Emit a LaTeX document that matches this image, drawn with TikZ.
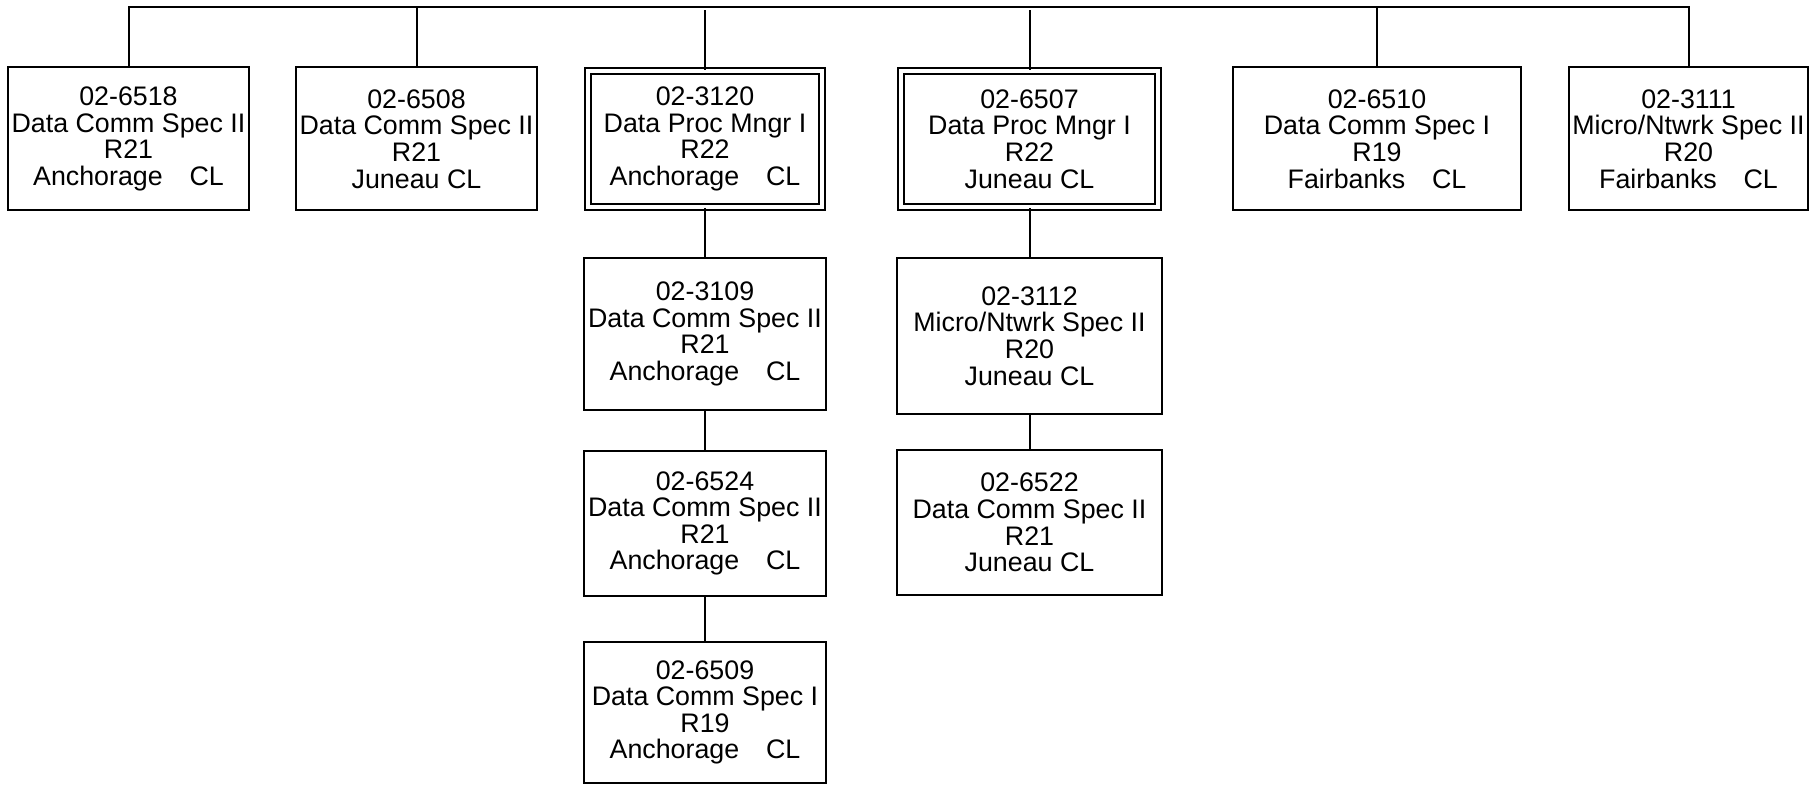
\documentclass[tikz,border=0pt]{standalone}
\usepackage{fontspec}
\setmainfont{Liberation Sans}
\usetikzlibrary{calc, positioning}

\begin{document}
\begin{tikzpicture}[x=0.5pt, y=-0.5pt,
    posbox/.style={draw, line width=1pt, align=center, inner sep=0pt,
        font=\fontsize{13.4}{13.3}\selectfont},
    mgrbox/.style={posbox, double, double distance=1.85pt}]
\useasboundingbox (0,0) rectangle (1811,785);

% Top row of positions
\node[posbox, minimum width=120.5pt, minimum height=71.5pt] (pos6518) at (128.5,139)
    {02-6518\\Data Comm Spec II\\R21\\Anchorage\quad CL};
\node[posbox, minimum width=120.5pt, minimum height=71.5pt] (pos6508) at (416.5,139)
    {02-6508\\Data Comm Spec II\\R21\\Juneau CL};
\node[mgrbox, minimum width=117pt, minimum height=68pt] (pos3120) at (705,139)
    {02-3120\\Data Proc Mngr I\\R22\\Anchorage\quad CL};
\node[mgrbox, minimum width=128.5pt, minimum height=68pt] (pos6507) at (1029.5,139)
    {02-6507\\Data Proc Mngr I\\R22\\Juneau CL};
\node[posbox, minimum width=144pt, minimum height=71.5pt] (pos6510) at (1377,139)
    {02-6510\\Data Comm Spec I\\R19\\Fairbanks\quad CL};
\node[posbox, minimum width=119.5pt, minimum height=71.5pt] (pos3111) at (1688.5,139)
    {02-3111\\Micro/Ntwrk Spec II\\R20\\Fairbanks\quad CL};

% Anchorage chain
\node[posbox, minimum width=121pt, minimum height=76pt] (pos3109) at (705,334)
    {02-3109\\Data Comm Spec II\\R21\\Anchorage\quad CL};
\node[posbox, minimum width=121pt, minimum height=72.5pt] (pos6524) at (705,523.5)
    {02-6524\\Data Comm Spec II\\R21\\Anchorage\quad CL};
\node[posbox, minimum width=121pt, minimum height=70.5pt] (pos6509) at (705,712.5)
    {02-6509\\Data Comm Spec I\\R19\\Anchorage\quad CL};

% Juneau chain
\node[posbox, minimum width=132.5pt, minimum height=78pt] (pos3112) at (1029.5,336)
    {02-3112\\Micro/Ntwrk Spec II\\R20\\Juneau CL};
\node[posbox, minimum width=132.5pt, minimum height=72.5pt] (pos6522) at (1029.5,522.5)
    {02-6522\\Data Comm Spec II\\R21\\Juneau CL};

% Connectors
\draw[line width=1pt] (pos6518.north) -- ++(0,-59.5) -| (pos3111.north);
\foreach \p in {pos6508, pos3120, pos6507, pos6510}
    \draw[line width=1pt] (\p.north) -- ++(0,-59.5);
\draw[line width=1pt] (pos3120) -- (pos3109);
\draw[line width=1pt] (pos3109) -- (pos6524);
\draw[line width=1pt] (pos6524) -- (pos6509);
\draw[line width=1pt] (pos6507) -- (pos3112);
\draw[line width=1pt] (pos3112) -- (pos6522);
\end{tikzpicture}
\end{document}
